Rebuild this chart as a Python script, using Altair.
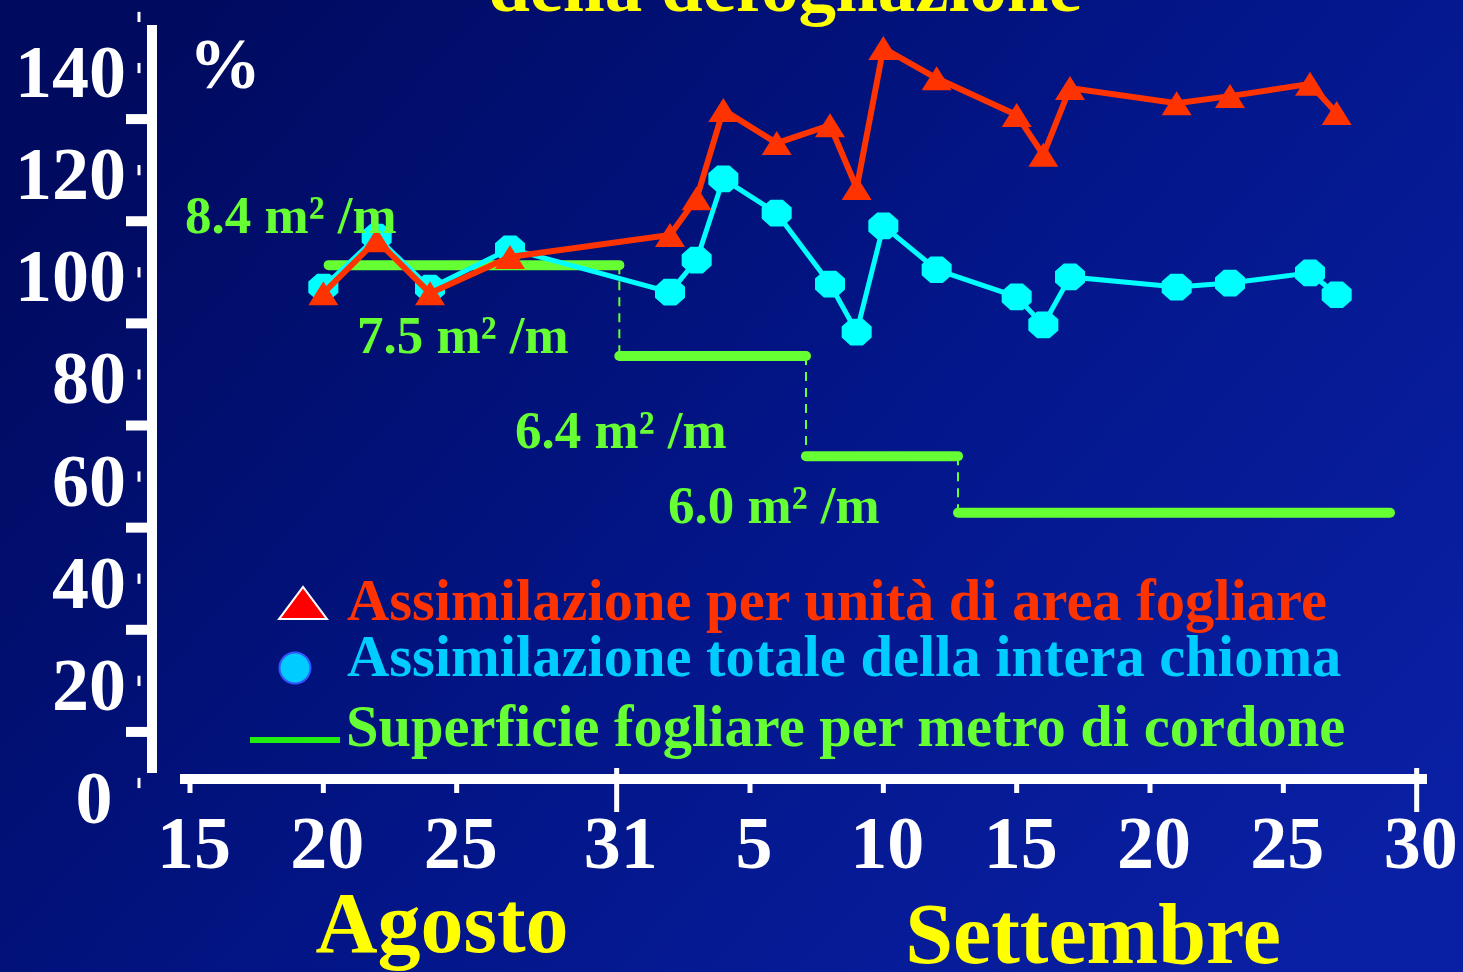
import altair as alt
import pandas as pd

# Sampling days, counted from 1 August (32 = 1 September)
days = [20, 22, 24, 27, 33, 34, 35, 37, 39, 40, 41, 43, 46, 47, 48, 52, 54, 57, 58]
# Assimilation per unit leaf area (%)
unit_area = [95.9, 106.3, 95.9, 103.0, 107.3, 114.5, 131.8, 125.3, 128.8, 116.5,
             143.9, 138.0, 130.8, 123.0, 136.1, 133.1, 134.5, 136.9, 131.2]
# Total assimilation of the whole canopy (%)
whole_canopy = [97.1, 106.9, 96.9, 104.6, 96.1, 102.4, 118.3, 111.6, 97.7, 88.3,
                109.1, 100.5, 95.2, 89.7, 99.1, 97.1, 97.9, 99.9, 95.6]

# Leaf area per metre of cordon after each defoliation step
step_start = [20.2, 31.1, 38.1, 43.8]
step_end = [31.1, 38.1, 43.8, 60.0]
step_level = [101.4, 83.6, 64.0, 52.9]
leaf_area = [8.4, 7.5, 6.4, 6.0]

y_label_values = [20, 40, 60, 80, 100, 120, 140]
y_dash_values = [0, 20, 40, 60, 80, 100, 120, 140, 150]
y_major_ticks = [10, 30, 50, 70, 90, 110, 130]
x_tick_days = [15, 20, 25, 31, 36, 41, 46, 51, 56, 61]
x_tick_labels = ["15", "20", "25", "31", "5", "10", "15", "20", "25", "30"]
x_minor_days = [15, 20, 25, 36, 41, 46, 51, 56]
x_major_days = [31, 61]

W, H = 1463, 972
FONT = "Liberation Serif"
RED = "#ff3300"
CYAN = "#00ffff"
GREEN = "#66ff33"
YELLOW = "#ffff00"

xs = alt.Scale(domain=[7.875, 62.737], nice=False, zero=False)
ys = alt.Scale(domain=[-37.01, 153.32], nice=False, zero=False)

series = pd.DataFrame({"day": days, "unit": unit_area, "canopy": whole_canopy})
steps = pd.DataFrame({"start": step_start, "end": step_end, "level": step_level,
                      "area": leaf_area})
links = pd.DataFrame({"day": step_end[:-1], "upper": step_level[:-1],
                      "lower": step_level[1:]})

X = lambda f: alt.X(f, scale=xs, axis=None)
Y = lambda f: alt.Y(f, scale=ys, axis=None)

one = alt.Data(values=[{}])

background = alt.Chart(one).mark_rect(
    fill=alt.Gradient(
        gradient="linear",
        stops=[alt.GradientStop(color="#000a5e", offset=0),
               alt.GradientStop(color="#03168a", offset=0.55),
               alt.GradientStop(color="#0a20a4", offset=1)],
        x1=0, y1=0.2, x2=1, y2=0.8,
    )
).encode(x=alt.value(0), x2=alt.value(W), y=alt.value(0), y2=alt.value(H))

step_lines = alt.Chart(steps).mark_rule(
    color=GREEN, strokeWidth=10, strokeCap="round"
).encode(x=X("start:Q"), x2="end:Q", y=Y("level:Q"))

step_links = alt.Chart(links).mark_rule(
    color=GREEN, strokeWidth=2, strokeDash=[9, 7]
).encode(x=X("day:Q"), y=Y("upper:Q"), y2="lower:Q")

octagon = ("M-0.41,-0.89L0.41,-0.89L1,-0.37L1,0.37L0.41,0.89L-0.41,0.89"
           "L-1,0.37L-1,-0.37Z")
triangle = "M0,-0.8L1,0.8L-1,0.8Z"

canopy_line = alt.Chart(series).mark_line(color=CYAN, strokeWidth=5).encode(
    x=X("day:Q"), y=Y("canopy:Q"))
canopy_pts = alt.Chart(series).mark_point(
    shape=octagon, filled=True, fill=CYAN, size=900, opacity=1, strokeWidth=0
).encode(x=X("day:Q"), y=Y("canopy:Q"))

unit_line = alt.Chart(series).mark_line(color=RED, strokeWidth=6).encode(
    x=X("day:Q"), y=Y("unit:Q"))
unit_pts = alt.Chart(series).mark_point(
    shape=triangle, filled=True, fill=RED, size=900, opacity=1, strokeWidth=0
).encode(x=X("day:Q"), y=Y("unit:Q"))

# Vertical axis
y_axis_line = alt.Chart(one).mark_rule(color="white", strokeWidth=10).encode(
    x=alt.value(152), y=alt.value(25), y2=alt.value(773))
y_major = alt.Chart(pd.DataFrame({"v": y_major_ticks})).mark_rule(
    color="white", strokeWidth=10
).encode(y=Y("v:Q"), x=alt.value(126), x2=alt.value(157))
y_dashes = alt.Chart(pd.DataFrame({"v": y_dash_values})).transform_calculate(
    lo="datum.v - 1", hi="datum.v + 1"
).mark_rule(color="white", strokeWidth=3).encode(
    x=alt.value(139), y=Y("lo:Q"), y2="hi:Q")
y_labels = alt.Chart(pd.DataFrame({"v": y_label_values})).mark_text(
    font=FONT, fontWeight="bold", fontSize=74, color="white",
    align="right", baseline="middle", dy=7
).encode(y=Y("v:Q"), x=alt.value(126), text="v:Q")
y_zero = alt.Chart(pd.DataFrame({"v": [0]})).mark_text(
    font=FONT, fontWeight="bold", fontSize=74, color="white",
    align="center", baseline="middle", dy=18
).encode(y=Y("v:Q"), x=alt.value(94), text="v:Q")

# Horizontal axis
x_axis_line = alt.Chart(one).mark_rule(color="white", strokeWidth=10).encode(
    x=alt.value(180), x2=alt.value(1427), y=alt.value(779))
x_minor = alt.Chart(pd.DataFrame({"d": x_minor_days})).mark_rule(
    color="white", strokeWidth=5
).encode(x=X("d:Q"), y=alt.value(783), y2=alt.value(793))
x_major = alt.Chart(pd.DataFrame({"d": x_major_days})).mark_rule(
    color="white", strokeWidth=5
).encode(x=X("d:Q"), y=alt.value(768), y2=alt.value(812))
x_labels = alt.Chart(pd.DataFrame({"d": x_tick_days, "t": x_tick_labels})).mark_text(
    font=FONT, fontWeight="bold", fontSize=74, color="white",
    align="center", baseline="middle", dx=4
).encode(x=X("d:Q"), y=alt.value(846), text="t:N")


def label(txt, x, y, size, color, align="left"):
    return alt.Chart(one).mark_text(
        text=txt, font=FONT, fontWeight="bold", fontSize=size, color=color,
        align=align, baseline="alphabetic"
    ).encode(x=alt.value(x), y=alt.value(y))


step_label_pos = [(185, 233), (357, 353), (515, 448), (668, 523)]
step_labels = [label(f"{a:.1f} m² /m", px, py, 53, GREEN)
               for a, (px, py) in zip(leaf_area, step_label_pos)]

texts = [
    label("della defogliazione", 785, 11, 75, YELLOW, "center"),
    label("%", 225, 88, 72, "white", "center"),
    label("Agosto", 442, 952, 86, YELLOW, "center"),
    label("Settembre", 1093, 963, 86, YELLOW, "center"),
    label("Assimilazione per unità di area fogliare", 347, 620, 58.5, "#ff3300"),
    label("Assimilazione totale della intera chioma", 347, 676, 58.5, "#00ccff"),
    label("Superficie fogliare per metro di cordone", 346, 746, 58.5, GREEN),
]

legend_tri = alt.Chart(one).mark_point(
    shape="M0,-0.67L1,0.67L-1,0.67Z", filled=True, fill="#ff0000",
    stroke="white", strokeWidth=2, size=2300, opacity=1
).encode(x=alt.value(303), y=alt.value(603))
legend_dot = alt.Chart(one).mark_point(
    shape="circle", filled=True, fill="#00ccff", stroke="#3355ff",
    strokeWidth=2, size=960, opacity=1
).encode(x=alt.value(295), y=alt.value(668))
legend_line = alt.Chart(one).mark_rule(color="#22ee11", strokeWidth=6).encode(
    x=alt.value(250), x2=alt.value(340), y=alt.value(740))

chart = alt.layer(
    background, step_lines, step_links,
    canopy_line, canopy_pts, unit_line, unit_pts,
    y_axis_line, y_major, y_dashes, y_labels, y_zero,
    x_axis_line, x_minor, x_major, x_labels,
    *step_labels, *texts, legend_tri, legend_dot, legend_line,
).properties(
    width=W, height=H, padding=0,
    autosize=alt.AutoSizeParams(type="none"),
    background="#020c64",
).configure_view(strokeWidth=0)

chart.save("out.html", embed_options={"renderer": "svg", "actions": False})
